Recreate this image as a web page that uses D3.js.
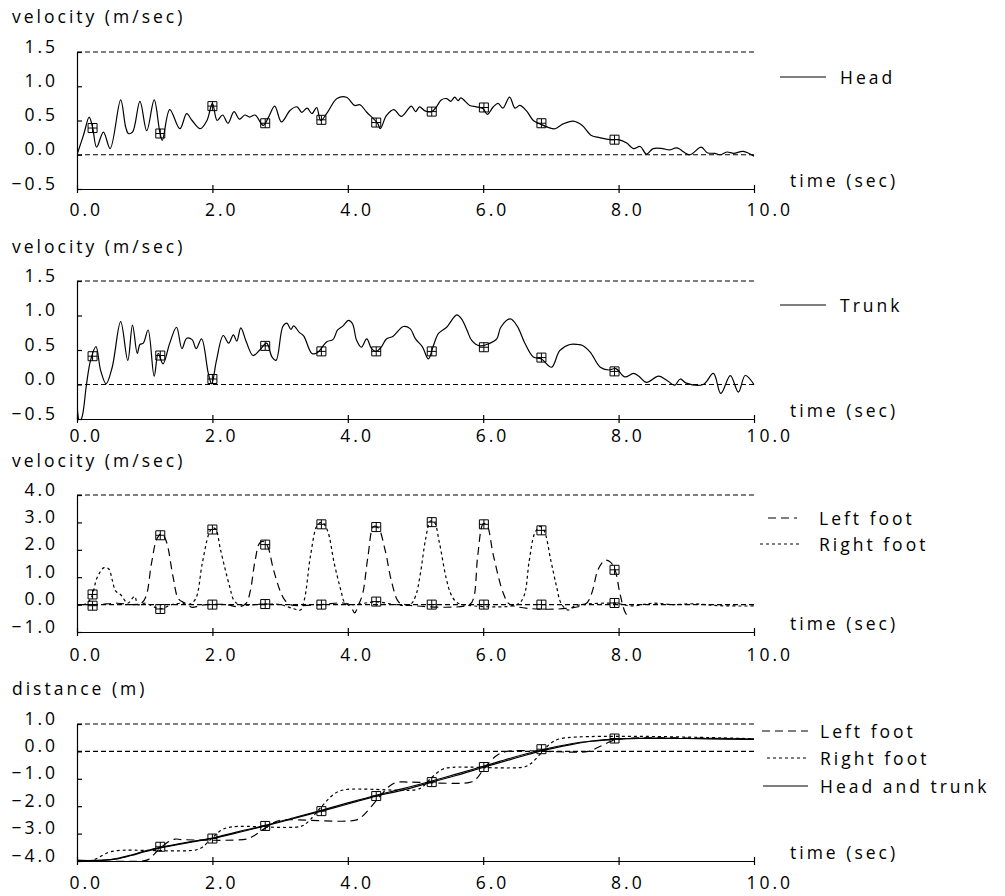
<!DOCTYPE html>
<html>
<head>
<meta charset="utf-8">
<script src="https://cdn.jsdelivr.net/npm/d3@7"></script>
<style>
  body { margin: 0; background: #fff; }
  text { font-family: 'Open Sans', 'Liberation Sans', sans-serif; font-weight: 400; font-size: 17.5px; letter-spacing: 3px; fill: #000; }
</style>
</head>
<body>
<svg id="chart" width="1005" height="896"></svg>
<script>

// time axis and the step events (marker times) shared by all four panels
var timeTicks = [0, 2, 4, 6, 8, 10];
var stepTimes = [0.23, 1.23, 2.0, 2.78, 3.61, 4.42, 5.24, 6.01, 6.86, 7.94];

// [time (sec), velocity (m/sec)]
var headVel = [[0,0],[0.1,0.3],[0.18,0.55],[0.23,0.4],[0.29,0.11],[0.39,0.33],[0.49,0.09],[0.645,0.8],[0.72,0.4],[0.76,0.31],[0.82,0.33],
  [0.93,0.78],[1.03,0.35],[1.14,0.8],[1.22,0.35],[1.26,0.21],[1.37,0.66],[1.52,0.38],[1.62,0.6],[1.7,0.5],[1.82,0.38],[1.92,0.5],
  [2.0,0.75],[2.07,0.5],[2.15,0.58],[2.23,0.46],[2.32,0.63],[2.4,0.52],[2.48,0.58],[2.55,0.55],[2.63,0.58],[2.75,0.43],[2.83,0.55],
  [2.92,0.71],[3.02,0.48],[3.15,0.65],[3.25,0.7],[3.32,0.62],[3.4,0.68],[3.47,0.6],[3.54,0.69],[3.6,0.5],[3.7,0.62],[3.84,0.82],
  [3.98,0.84],[4.1,0.72],[4.18,0.73],[4.28,0.62],[4.44,0.46],[4.48,0.38],[4.57,0.57],[4.68,0.66],[4.79,0.56],[4.94,0.71],[5.0,0.63],
  [5.06,0.7],[5.14,0.64],[5.24,0.63],[5.31,0.7],[5.38,0.8],[5.46,0.82],[5.52,0.78],[5.58,0.84],[5.63,0.79],[5.67,0.83],[5.8,0.72],
  [5.9,0.7],[6.0,0.67],[6.06,0.59],[6.15,0.7],[6.22,0.75],[6.29,0.68],[6.39,0.84],[6.47,0.68],[6.54,0.72],[6.64,0.64],[6.74,0.5],
  [6.84,0.45],[6.96,0.4],[7.06,0.38],[7.18,0.45],[7.33,0.49],[7.46,0.43],[7.6,0.28],[7.72,0.25],[7.87,0.22],[8.0,0.22],[8.12,0.17],
  [8.22,0.09],[8.32,0.12],[8.41,0.01],[8.51,0.09],[8.65,0.09],[8.75,0.07],[8.86,0.1],[9.05,0.0],[9.22,0.11],[9.31,0.03],[9.42,0.02],
  [9.5,0.0],[9.6,0.04],[9.7,0.02],[9.84,0.05],[10.0,-0.02]];

var trunkVel = [[0,-0.3],[0.04,-0.55],[0.08,-0.45],[0.14,0.0],[0.2,0.35],[0.28,0.55],[0.35,0.2],[0.43,0.01],[0.52,0.25],[0.645,0.91],
  [0.75,0.35],[0.82,0.86],[0.89,0.45],[0.93,0.58],[0.98,0.6],[1.05,0.79],[1.14,0.12],[1.2,0.45],[1.27,0.3],[1.37,0.6],[1.47,0.83],
  [1.55,0.52],[1.62,0.67],[1.7,0.65],[1.76,0.52],[1.84,0.66],[1.94,0.16],[1.99,0.01],[2.06,0.35],[2.16,0.71],[2.24,0.6],[2.31,0.72],
  [2.36,0.63],[2.42,0.82],[2.5,0.62],[2.6,0.42],[2.7,0.5],[2.8,0.6],[2.88,0.4],[2.94,0.35],[3.04,0.84],[3.1,0.89],[3.16,0.8],
  [3.2,0.85],[3.28,0.76],[3.35,0.7],[3.47,0.45],[3.55,0.46],[3.69,0.62],[3.78,0.65],[3.85,0.79],[3.93,0.85],[4.01,0.93],[4.07,0.88],
  [4.13,0.64],[4.2,0.54],[4.28,0.66],[4.35,0.52],[4.42,0.48],[4.5,0.55],[4.57,0.66],[4.67,0.7],[4.82,0.84],[4.92,0.81],[5.0,0.66],
  [5.1,0.55],[5.19,0.37],[5.26,0.55],[5.34,0.74],[5.46,0.83],[5.61,1.01],[5.68,0.95],[5.76,0.79],[5.83,0.64],[5.95,0.56],[6.08,0.59],
  [6.2,0.66],[6.26,0.83],[6.4,0.95],[6.5,0.85],[6.62,0.59],[6.74,0.4],[6.86,0.37],[7.01,0.25],[7.13,0.49],[7.28,0.58],[7.4,0.58],
  [7.46,0.57],[7.58,0.47],[7.73,0.25],[7.85,0.21],[7.96,0.23],[8.09,0.11],[8.22,0.16],[8.3,0.12],[8.41,0.03],[8.59,0.12],[8.7,0.07],
  [8.83,-0.01],[8.91,0.08],[9.0,0.02],[9.25,0.0],[9.4,0.16],[9.51,-0.13],[9.65,0.13],[9.77,-0.11],[9.87,0.13],[10.0,0.0]];

var leftFootVel = [[0,0],[0.3,0.0],[0.6,0.05],[0.8,0.0],[0.95,0.05],[1.02,0.3],[1.1,1.5],[1.18,2.4],[1.25,2.6],[1.32,2.3],[1.42,1.0],
  [1.5,0.2],[1.6,0.05],[1.7,-0.1],[1.8,-0.05],[1.9,0.0],[2.2,0.0],[2.4,-0.08],[2.5,0.05],[2.56,0.5],[2.63,1.6],[2.7,2.25],[2.76,2.3],
  [2.82,2.1],[2.9,1.3],[3.0,0.5],[3.06,0.2],[3.15,0.0],[3.6,0.0],[3.95,0.05],[4.05,-0.1],[4.1,-0.3],[4.16,0.0],[4.22,0.4],[4.3,1.8],
  [4.38,2.85],[4.45,2.8],[4.55,2.0],[4.65,0.8],[4.75,0.1],[4.85,0.0],[5.8,0.0],[5.86,0.25],[5.92,1.8],[6.0,2.95],[6.05,2.93],
  [6.15,1.8],[6.3,0.4],[6.4,0.0],[7.5,0.0],[7.6,0.4],[7.7,1.3],[7.8,1.62],[7.88,1.55],[7.95,1.25],[8.02,0.4],[8.1,-0.3],[8.15,-0.45]];

var rightFootVel = [[0,0],[0.1,0.0],[0.2,0.2],[0.3,1.0],[0.4,1.35],[0.47,1.3],[0.52,0.9],[0.57,0.5],[0.65,0.35],[0.75,0.05],[0.85,0.3],
  [0.9,0.0],[1.0,0.05],[1.23,-0.15],[1.4,0.0],[1.55,0.05],[1.65,0.0],[1.75,0.2],[1.85,1.5],[1.95,2.6],[2.0,2.8],[2.05,2.75],
  [2.12,2.0],[2.25,0.7],[2.32,0.15],[2.4,0.0],[2.78,0.02],[3.0,0.0],[3.2,-0.15],[3.3,-0.2],[3.36,0.2],[3.45,1.8],[3.55,2.9],
  [3.62,3.0],[3.7,2.7],[3.8,1.5],[3.9,0.5],[3.95,0.1],[4.05,0.0],[4.42,0.1],[4.7,0.0],[4.92,0.0],[5.0,0.3],[5.07,1.1],[5.15,2.4],
  [5.22,3.05],[5.28,3.0],[5.35,2.3],[5.45,1.0],[5.52,0.4],[5.6,0.1],[5.7,0.0],[6.5,0.0],[6.6,0.3],[6.68,1.6],[6.76,2.6],[6.84,2.85],
  [6.9,2.7],[7.0,1.6],[7.08,0.7],[7.15,0.05],[7.25,-0.2],[7.35,-0.05],[7.45,0.0],[7.94,0.05],[8.2,-0.05],[8.5,0.05],[8.8,0.0],
  [9.1,0.03],[9.5,-0.04],[10.0,-0.05]];

// [time (sec), distance (m)]
var leftFootDist = [[0,-4.0],[0.95,-4.0],[1.05,-3.95],[1.2,-3.6],[1.35,-3.3],[1.45,-3.2],[1.55,-3.22],[2.5,-3.2],[2.6,-3.1],
  [2.78,-2.8],[2.95,-2.55],[3.05,-2.5],[4.1,-2.52],[4.2,-2.4],[4.42,-1.8],[4.6,-1.3],[4.72,-1.13],[4.9,-1.12],[5.8,-1.13],
  [5.9,-1.0],[6.02,-0.6],[6.2,-0.15],[6.35,0.0],[7.55,0.0],[7.7,0.15],[7.9,0.38],[8.1,0.47],[10,0.45]];

var rightFootDist = [[0,-4.0],[0.2,-4.0],[0.3,-3.9],[0.45,-3.7],[0.6,-3.62],[1.75,-3.6],[1.85,-3.5],[2.0,-3.15],[2.15,-2.85],
  [2.3,-2.75],[3.3,-2.74],[3.4,-2.6],[3.6,-2.05],[3.8,-1.55],[3.95,-1.4],[5.0,-1.4],[5.1,-1.3],[5.24,-0.95],[5.4,-0.65],
  [5.55,-0.58],[6.6,-0.57],[6.7,-0.45],[6.86,-0.05],[7.0,0.3],[7.15,0.47],[10,0.46]];

var headDist = [[0,-3.98],[0.4,-3.97],[0.6,-3.92],[0.8,-3.8],[1.0,-3.66],[1.23,-3.52],[1.6,-3.35],[2.0,-3.18],[2.4,-2.95],
  [2.78,-2.72],[3.2,-2.45],[3.61,-2.18],[4.0,-1.92],[4.42,-1.63],[4.8,-1.42],[5.24,-1.12],[5.6,-0.88],[6.02,-0.57],[6.4,-0.3],
  [6.86,0.02],[7.3,0.25],[7.6,0.37],[7.94,0.44],[8.3,0.47],[9.0,0.47],[10,0.44]];

var trunkDist = [[0,-3.98],[0.4,-3.97],[0.6,-3.9],[0.8,-3.78],[1.0,-3.64],[1.23,-3.5],[1.6,-3.33],[2.0,-3.16],[2.4,-2.92],
  [2.78,-2.7],[3.2,-2.42],[3.61,-2.15],[4.0,-1.88],[4.42,-1.6],[4.8,-1.37],[5.24,-1.08],[5.6,-0.83],[6.02,-0.53],[6.4,-0.25],
  [6.86,0.05],[7.3,0.28],[7.6,0.38],[7.94,0.45],[8.3,0.48],[9.0,0.47],[10,0.45]];

// marker values at stepTimes (null = no marker)
var headMarks = [0.39, 0.31, 0.71, 0.46, 0.51, 0.47, 0.63, 0.69, 0.46, 0.22];
var trunkMarks = [0.41, 0.42, 0.08, 0.56, 0.48, 0.48, 0.48, 0.54, 0.39, 0.19];
var leftFootMarks = [-0.04, 2.53, 0.0, 2.19, 0.0, 2.83, 0.0, 2.93, 0.0, 1.27];
var rightFootMarks = [0.37, -0.16, 2.74, 0.02, 2.93, 0.11, 3.01, 0.0, 2.71, 0.06];
var bodyDistMarks = [null, -3.48, -3.18, -2.72, -2.18, -1.63, -1.12, -0.57, 0.08, 0.47];

var LONG = "8,5";
var SHORT = "3,3";

var x = d3.scaleLinear().domain([0, 10]).range([77, 754]);
var svg = d3.select("#chart");
var fmt = d3.format(".1f");

var panels = [
  {title: "velocity (m/sec)", titleY: 23, domain: [-0.5, 1.5], range: [189, 52], ticks: [-0.5, 0, 0.5, 1, 1.5],
   refs: [0, 1.5], labelDy: 27,
   series: [{data: headVel, dash: null}],
   marks: [headMarks],
   legend: [{name: "Head", dash: null, y: 77, x1: 780, x2: 826, tx: 840}]},
  {title: "velocity (m/sec)", titleY: 253, domain: [-0.5, 1.5], range: [419, 281], ticks: [-0.5, 0, 0.5, 1, 1.5],
   refs: [0, 1.5], labelDy: 23,
   series: [{data: trunkVel, dash: null}],
   marks: [trunkMarks],
   legend: [{name: "Trunk", dash: null, y: 305, x1: 780, x2: 826, tx: 840}]},
  {title: "velocity (m/sec)", titleY: 467, domain: [-1, 4], range: [632, 495], ticks: [-1, 0, 1, 2, 3, 4],
   refs: [0, 4], labelDy: 29,
   series: [{data: leftFootVel, dash: LONG}, {data: rightFootVel, dash: SHORT}],
   marks: [leftFootMarks, rightFootMarks],
   legend: [{name: "Left foot", dash: LONG, y: 518, x1: 768, x2: 797, tx: 819},
            {name: "Right foot", dash: SHORT, y: 544, x1: 760, x2: 800, tx: 819}]},
  {title: "distance (m)", titleY: 695, domain: [-4, 1], range: [861, 724], ticks: [-4, -3, -2, -1, 0, 1],
   refs: [0, 1], labelDy: 28,
   series: [{data: leftFootDist, dash: LONG}, {data: rightFootDist, dash: SHORT},
            {data: headDist, dash: null}, {data: trunkDist, dash: null}],
   marks: [bodyDistMarks],
   legend: [{name: "Left foot", dash: LONG, y: 731, x1: 762, x2: 808, tx: 820},
            {name: "Right foot", dash: SHORT, y: 758, x1: 767, x2: 808, tx: 820},
            {name: "Head and trunk", dash: null, y: 786, x1: 763, x2: 808, tx: 820}]}
];

panels.forEach(function(p, i) { drawPanel(p, i); });

function drawPanel(p, i) {
    var y = d3.scaleLinear().domain(p.domain).range(p.range);
    var g = svg.append("g");
    var bottom = p.range[0];

    g.append("text")
        .attr("x", 12)
        .attr("y", p.titleY)
        .text(p.title);

    // x axis, ticks cross the line
    var xa = g.append("g")
        .attr("transform", "translate(0," + bottom + ")")
        .call(d3.axisBottom(x).tickValues(timeTicks).tickSizeInner(4).tickSizeOuter(0).tickFormat(fmt));
    xa.selectAll(".tick line").attr("y1", -4).attr("y2", 4);
    xa.selectAll(".tick text")
        .attr("x", -8)
        .attr("y", p.labelDy)
        .attr("dy", null)
        .attr("text-anchor", "start");

    // y axis, ticks point inward
    var ya = g.append("g")
        .attr("transform", "translate(" + x(0) + ",0)")
        .call(d3.axisLeft(y).tickValues(p.ticks).tickSizeInner(-5).tickSizeOuter(0).tickFormat(fmt));
    ya.selectAll(".tick text")
        .attr("x", -19)
        .attr("dy", null)
        .attr("y", 0)
        .attr("text-anchor", "end");
    g.selectAll(".domain, .tick line").attr("stroke", "#000").attr("stroke-width", 1.2);

    g.append("text")
        .attr("x", 790)
        .attr("y", bottom - 2)
        .text("time (sec)");

    // dashed reference lines
    g.selectAll(".ref")
        .data(p.refs)
        .enter()
        .append("line")
        .attr("x1", x(0))
        .attr("x2", x(10))
        .attr("y1", d => y(d))
        .attr("y2", d => y(d))
        .attr("stroke", "#000")
        .attr("stroke-width", 1.1)
        .attr("stroke-dasharray", "5,3");

    g.append("clipPath")
        .attr("id", "clip" + i)
        .append("rect")
        .attr("x", x(0))
        .attr("y", p.range[1] - 10)
        .attr("width", x(10) - x(0) + 2)
        .attr("height", bottom - p.range[1] + 10);

    var line = d3.line()
        .x(d => x(d[0]))
        .y(d => y(d[1]))
        .curve(d3.curveCatmullRom.alpha(0.5));

    g.append("g")
        .attr("clip-path", "url(#clip" + i + ")")
        .selectAll("path")
        .data(p.series)
        .enter()
        .append("path")
        .attr("d", d => line(d.data))
        .attr("fill", "none")
        .attr("stroke", "#000")
        .attr("stroke-width", 1.2)
        .attr("stroke-dasharray", d => d.dash);

    p.marks.forEach(function(vals) {
        var pts = stepTimes.map((t, j) => [t, vals[j]]).filter(d => d[1] != null);
        g.selectAll(null)
            .data(pts)
            .enter()
            .append("path")
            .attr("transform", d => "translate(" + x(d[0]) + "," + y(d[1]) + ")")
            .attr("d", "M-4.5,-4.5h9v9h-9z M0,-4.5v9 M-4.5,0h9")
            .attr("fill", "none")
            .attr("stroke", "#000")
            .attr("stroke-width", 1);
    });

    p.legend.forEach(function(l) {
        g.append("line")
            .attr("x1", l.x1)
            .attr("x2", l.x2)
            .attr("y1", l.y)
            .attr("y2", l.y)
            .attr("stroke", "#000")
            .attr("stroke-width", 1.1)
            .attr("stroke-dasharray", l.dash);
        g.append("text")
            .attr("x", l.tx)
            .attr("y", l.y + 7)
            .text(l.name);
    });
}
</script>
</body>
</html>
